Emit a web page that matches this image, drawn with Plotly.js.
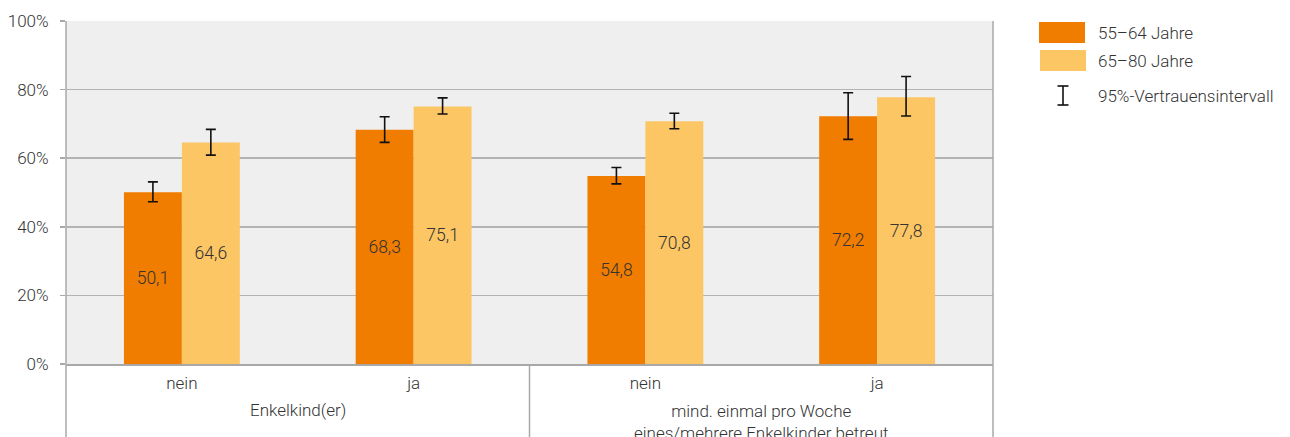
<!DOCTYPE html>
<html>
<head>
<meta charset="utf-8">
<script src="https://cdn.plot.ly/plotly-3.0.1.min.js"></script>
<style>html,body{margin:0;padding:0;background:#fff;}#chart{width:1290px;height:437px;}</style>
</head>
<body>
<div id="chart"></div>
<script>
// ---- data ----
var categories = ["Enkelkind nein", "Enkelkind ja", "Betreut nein", "Betreut ja"];
var tickLabels = ["nein", "ja", "nein", "ja"];
var groupLabels = ["Enkelkind(er)", "mind. einmal pro Woche<br>eines/mehrere Enkelkinder betreut"];
var seriesNames = ["55–64 Jahre", "65–80 Jahre"];
var values5564 = [50.1, 68.3, 54.8, 72.2];
var upper5564  = [53.1, 72.1, 57.3, 79.1];
var lower5564  = [47.3, 64.6, 52.5, 65.5];
var values6580 = [64.6, 75.1, 70.8, 77.8];
var upper6580  = [68.4, 77.6, 73.1, 83.8];
var lower6580  = [60.9, 72.9, 68.6, 72.3];
var ciLabel = "95%-Vertrauensintervall";
var yTicks = [0, 20, 40, 60, 80, 100];
var yTickLabels = ["0%", "20%", "40%", "60%", "80%", "100%"];

// ---- styles ----
var colOrange = "#F07D00";
var colYellow = "#FCC665";
var gridCol = "#b3b3b3";
var axisCol = "#a8a8a8";
var textCol = "#333333";
var fontFam = "Roboto, 'Noto Sans', sans-serif";
var W = 300;
var FS = 17;

function diff(a, b) { return a.map(function (v, i) { return +(v - b[i]).toFixed(2); }); }

function barTrace(vals, up, lo, color, name) {
  return {
    type: "bar",
    x: categories,
    y: vals,
    name: name,
    marker: { color: color, line: { width: 0 } },
    texttemplate: "%{y:.1f}",
    textposition: "inside",
    insidetextanchor: "middle",
    textangle: 0,
    textfont: { family: fontFam, size: 17.5, color: textCol, weight: W },
    constraintext: "none",
    error_y: {
      type: "data", symmetric: false,
      array: diff(up, vals), arrayminus: diff(vals, lo),
      color: "#111111", thickness: 1.6, width: 5
    },
    hoverinfo: "none",
    showlegend: false
  };
}

var traces = [
  barTrace(values5564, upper5564, lower5564, colOrange, seriesNames[0]),
  barTrace(values6580, upper6580, lower6580, colYellow, seriesNames[1])
];

// pixel->paper helpers (plot area: x 66..993, y 21..364)
var L = 66, R = 993, T = 21, B = 364;
function px(x) { return (x - L) / (R - L); }
function py(y) { return (B - y) / (B - T); }

var shapes = [
  { type: "line", xref: "paper", yref: "paper", x0: 0, x1: 0, y0: py(437), y1: 1, line: { color: axisCol, width: 1.5 } },
  { type: "line", xref: "paper", yref: "paper", x0: 0.5, x1: 0.5, y0: py(437), y1: 0, line: { color: axisCol, width: 1.5 } },
  { type: "line", xref: "paper", yref: "paper", x0: 1, x1: 1, y0: py(437), y1: 1, line: { color: axisCol, width: 1.5 } },
  { type: "rect", xref: "paper", yref: "paper", x0: px(1039), x1: px(1085), y0: py(43), y1: py(22), fillcolor: colOrange, line: { width: 0 } },
  { type: "rect", xref: "paper", yref: "paper", x0: px(1040), x1: px(1086), y0: py(71), y1: py(50), fillcolor: colYellow, line: { width: 0 } },
  { type: "line", xref: "paper", yref: "paper", x0: px(1063), x1: px(1063), y0: py(105), y1: py(86), line: { color: "#111", width: 1.6 } },
  { type: "line", xref: "paper", yref: "paper", x0: px(1057.5), x1: px(1068.5), y0: py(86), y1: py(86), line: { color: "#111", width: 1.6 } },
  { type: "line", xref: "paper", yref: "paper", x0: px(1057.5), x1: px(1068.5), y0: py(105), y1: py(105), line: { color: "#111", width: 1.6 } }
];

function ann(x, y, text, xanchor, yanchor) {
  return { xref: "paper", yref: "paper", x: x, y: y, text: text, showarrow: false, xanchor: xanchor, yanchor: yanchor,
           font: { family: fontFam, size: FS, color: textCol, weight: W } };
}

var annotations = [
  ann(0.25, py(410), groupLabels[0], "center", "middle"),
  ann(0.75, py(399), groupLabels[1], "center", "top"),
  ann(px(1096), py(33), seriesNames[0], "left", "middle"),
  ann(px(1096), py(61), seriesNames[1], "left", "middle"),
  ann(px(1096), py(96), ciLabel, "left", "middle")
];

var layout = {
  width: 1290, height: 437,
  margin: { l: L, r: 1290 - R, t: T, b: 437 - B, pad: 0 },
  paper_bgcolor: "#ffffff",
  plot_bgcolor: "#efefef",
  separators: ",.",
  barmode: "group",
  bargap: 0.5,
  bargroupgap: 0,
  showlegend: false,
  font: { family: fontFam, size: FS, color: textCol, weight: W },
  xaxis: {
    type: "category",
    tickvals: categories, ticktext: tickLabels,
    showgrid: false, zeroline: false,
    showline: true, linecolor: axisCol, linewidth: 2,
    ticks: "", ticklabelstandoff: 3,
    tickfont: { family: fontFam, size: FS, color: textCol, weight: W },
    fixedrange: true
  },
  yaxis: {
    range: [0, 100],
    tickvals: yTicks, ticktext: yTickLabels,
    showgrid: true, gridcolor: gridCol, gridwidth: 1.5,
    zeroline: false,
    showline: false,
    ticks: "outside", ticklen: 5, tickcolor: axisCol, tickwidth: 1.5,
    ticklabelstandoff: 8,
    tickfont: { family: fontFam, size: FS, color: textCol, weight: W },
    fixedrange: true
  },
  shapes: shapes,
  annotations: annotations
};

Plotly.newPlot("chart", traces, layout, { staticPlot: true, displayModeBar: false });
</script>
</body>
</html>
